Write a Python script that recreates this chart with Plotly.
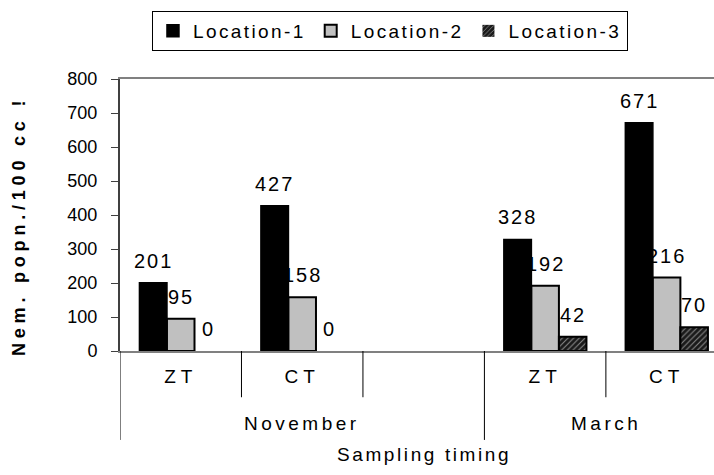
import plotly.graph_objects as go

# Sampling slots: (month, tillage); the blank slot separates the two months
months = ["November", "November", "November", "March", "March"]
tillage = ["ZT", "CT", "", "ZT", "CT"]

series_names = ["Location-1", "Location-2", "Location-3"]
loc1 = [201, 427, None, 328, 671]
loc2 = [95, 158, None, 192, 216]
loc3 = [0, 0, None, 42, 70]

y_ticks = [0, 100, 200, 300, 400, 500, 600, 700, 800]

FONT = "Liberation Sans, Arial, sans-serif"
slots = list(range(len(tillage)))
bar_w = (1 - 0.32) / 3  # width of one bar in slot units


def spaced(text, px):
    """Wrap text in a span with extra letter spacing."""
    return f'<span style="letter-spacing:{px}px">{text}</span>'


fig = go.Figure()

fills = ["black", "#c0c0c0", "#1a1a1a"]
outline_w = [1.5, 2, 2]
patterns = [None, None,
            dict(shape="/", bgcolor="#1a1a1a", fgcolor="#ffffff", size=4, solidity=0.25)]

for name, vals, fc, lw, pat in zip(series_names, [loc1, loc2, loc3], fills, outline_w, patterns):
    # zero-height bars get no outline
    widths = [0 if v == 0 else lw for v in vals]
    marker = dict(color=fc, line=dict(color="black", width=widths))
    if pat:
        marker["pattern"] = pat
    fig.add_trace(go.Bar(x=slots, y=vals, name=spaced(name, 2.4), marker=marker))

# value labels above each bar
for i, vals in enumerate([loc1, loc2, loc3]):
    for s, v in zip(slots, vals):
        if v is None:
            continue
        fig.add_annotation(x=s + (i - 1) * bar_w, y=v, xref="x", yref="y",
                           text=spaced(v, 2), showarrow=False, yanchor="bottom",
                           yshift=9, font=dict(family=FONT, size=20, color="black"))

# category separators below the axis
for b in [0.5, 1.5, 3.5]:
    fig.add_shape(type="line", xref="x", yref="paper", x0=b, x1=b, y0=0, y1=-0.17,
                  line=dict(color="black", width=1))
for b in [-0.5, 2.5]:
    fig.add_shape(type="line", xref="x", yref="paper", x0=b, x1=b, y0=0, y1=-0.327,
                  line=dict(color="black", width=1))

# month labels
month_names = []
for m in months:
    if m not in month_names:
        month_names.append(m)
for m in month_names:
    idx = [k for k, mm in enumerate(months) if mm == m]
    fig.add_annotation(x=(idx[0] + idx[-1]) / 2, y=-0.268, xref="x", yref="paper",
                       text=spaced(m, 3.5), showarrow=False, yanchor="middle",
                       font=dict(family=FONT, size=19, color="black"))

fig.add_annotation(x=2, y=-0.382, xref="x", yref="paper",
                   text=spaced("Sampling timing", 2.6),
                   showarrow=False, yanchor="middle",
                   font=dict(family=FONT, size=19, color="black"))

fig.add_annotation(x=-0.19, y=0.46, xref="paper", yref="paper",
                   text=spaced("<b>Nem. popn./100 cc !</b>", 4.8), textangle=-90,
                   showarrow=False,
                   font=dict(family=FONT, size=18, color="black"))

fig.update_layout(
    width=714, height=475,
    margin=dict(l=120, r=0, t=79, b=124),
    paper_bgcolor="white", plot_bgcolor="white",
    barmode="group", bargap=0.32, bargroupgap=0,
    font=dict(family=FONT, size=18, color="black"),
    showlegend=True,
    legend=dict(orientation="h", x=0.4545, xanchor="center", y=1.25, yanchor="top",
                bordercolor="black", borderwidth=1, bgcolor="white",
                font=dict(family=FONT, size=19, color="black"),
                traceorder="normal"),
    xaxis=dict(range=[-0.5, 4.39], tickmode="array",
               tickvals=[s for s, t in zip(slots, tillage) if t],
               ticktext=[spaced(t, 5) for t in tillage if t],
               showline=True, linecolor="#808080", linewidth=2, mirror=True,
               ticks="", ticklabelstandoff=7, showgrid=False, zeroline=False,
               tickfont=dict(family=FONT, size=19, color="black")),
    yaxis=dict(range=[0, 800], tickmode="array", tickvals=y_ticks,
               showline=True, linecolor="#404040", linewidth=2,
               ticks="outside", ticklen=7, tickcolor="#404040", tickwidth=1,
               ticklabelstandoff=10, showgrid=False, zeroline=False,
               tickfont=dict(family=FONT, size=18, color="black")),
)

fig.write_html("out.html")
